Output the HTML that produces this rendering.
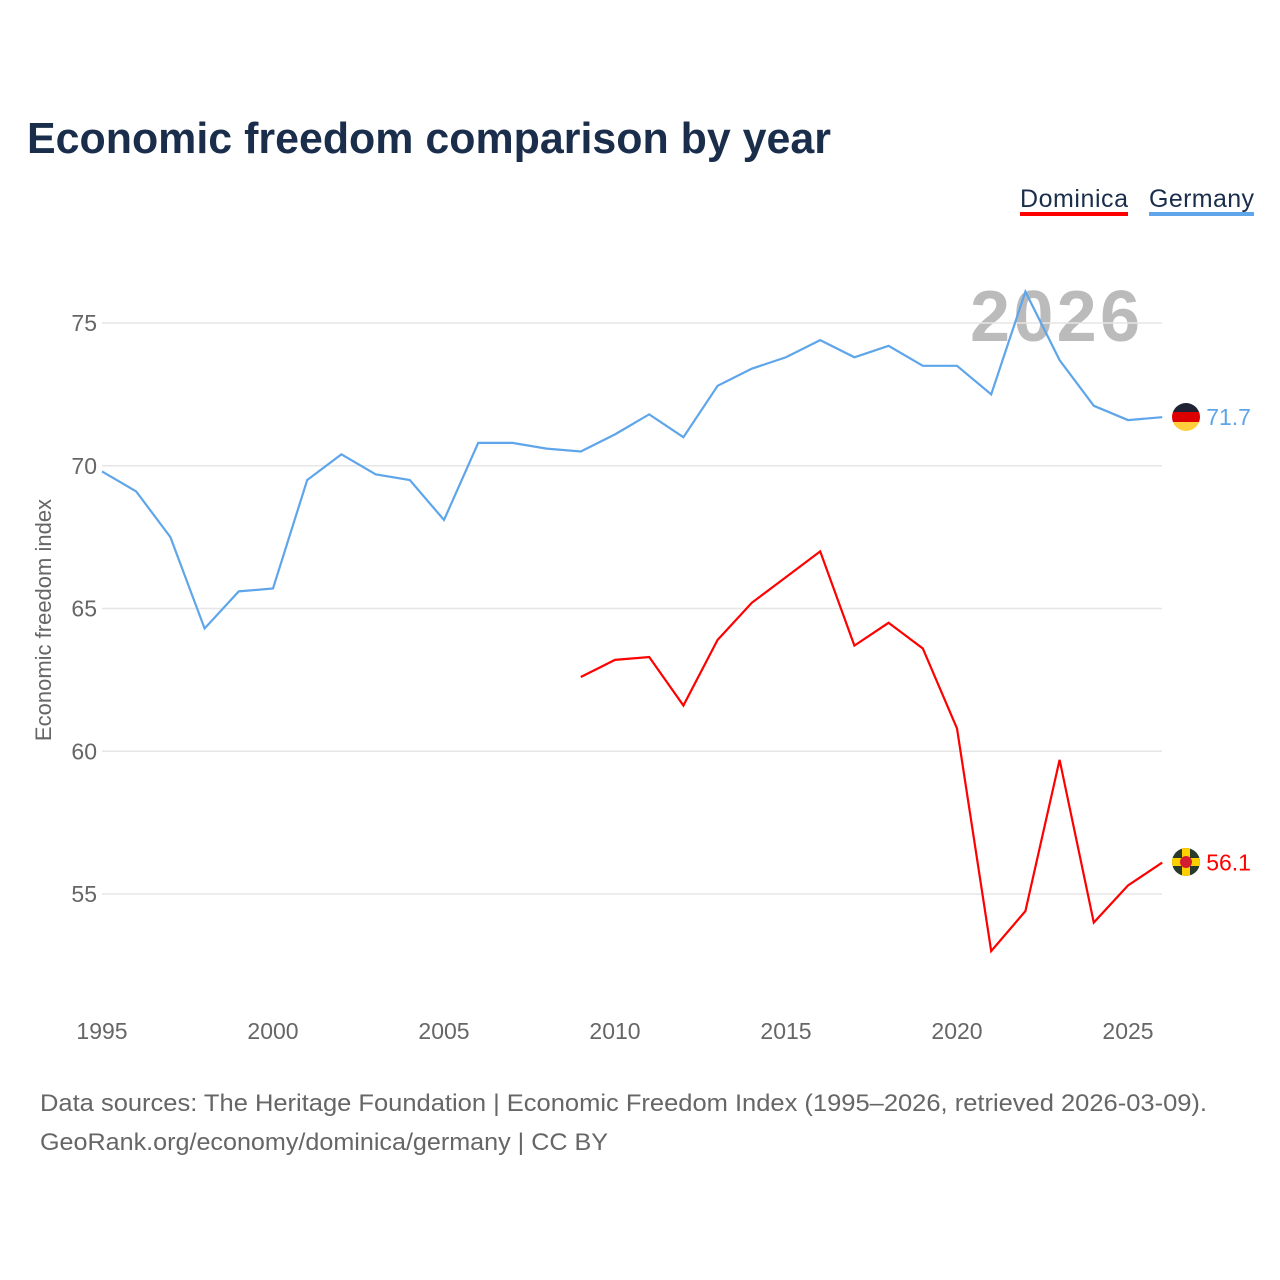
<!DOCTYPE html>
<html><head><meta charset="utf-8"><style>
body{margin:0;background:#fff;font-family:"Liberation Sans",sans-serif;}
svg{display:block}
</style></head><body>
<svg id="chart" width="1280" height="1280">
<rect width="1280" height="1280" fill="#fff"/>
<text x="27" y="153" font-size="44" font-weight="bold" fill="#1a2e4c" textLength="804" lengthAdjust="spacingAndGlyphs">Economic freedom comparison by year</text>
<g>
<text x="1020" y="207" font-size="25" fill="#1a2e4c" textLength="108">Dominica</text>
<rect x="1020" y="212" width="108" height="4" fill="#ff0000"/>
<text x="1149" y="207" font-size="25" fill="#1a2e4c" textLength="105">Germany</text>
<rect x="1149" y="212" width="105" height="4" fill="#5ea5ea"/>
</g>
<text x="1140" y="341" font-size="72" font-weight="bold" fill="#bbbbbb" text-anchor="end" textLength="170">2026</text>
<g id="grid"></g><g id="yticks"></g><g id="xticks"></g><g id="lines"></g>
<defs>
<clipPath id="cg"><circle cx="1186" cy="417" r="14"/></clipPath>
<clipPath id="cd"><circle cx="1186" cy="862" r="14"/></clipPath>
</defs>
<g clip-path="url(#cg)">
<rect x="1170" y="402" width="32" height="10" fill="#1f2233"/>
<rect x="1170" y="412" width="32" height="10" fill="#dd0000"/>
<rect x="1170" y="422" width="32" height="10" fill="#ffce3a"/>
</g>
<g clip-path="url(#cd)">
<rect x="1170" y="846" width="32" height="32" fill="#2a3a2a"/>
<rect x="1170" y="858" width="32" height="8" fill="#ffd000"/>
<rect x="1182" y="846" width="8" height="32" fill="#ffd000"/>
<circle cx="1186" cy="862" r="6" fill="#d41c30"/>
</g>
<text transform="translate(51,620) rotate(-90)" font-size="22" fill="#666" text-anchor="middle">Economic freedom index</text>
<text x="40" y="1111" font-size="24" fill="#666" textLength="1167" lengthAdjust="spacingAndGlyphs">Data sources: The Heritage Foundation | Economic Freedom Index (1995–2026, retrieved 2026-03-09).</text>
<text x="40" y="1150" font-size="24" fill="#666" textLength="568" lengthAdjust="spacingAndGlyphs">GeoRank.org/economy/dominica/germany | CC BY</text>
</svg>
<script>
const germanyYears=[1995,1996,1997,1998,1999,2000,2001,2002,2003,2004,2005,2006,2007,2008,2009,2010,2011,2012,2013,2014,2015,2016,2017,2018,2019,2020,2021,2022,2023,2024,2025,2026];
const germanyValues=[69.8,69.1,67.5,64.3,65.6,65.7,69.5,70.4,69.7,69.5,68.1,70.8,70.8,70.6,70.5,71.1,71.8,71.0,72.8,73.4,73.8,74.4,73.8,74.2,73.5,73.5,72.5,76.1,73.7,72.1,71.6,71.7];
const dominicaYears=[2009,2010,2011,2012,2013,2014,2015,2016,2017,2018,2019,2020,2021,2022,2023,2024,2025,2026];
const dominicaValues=[62.6,63.2,63.3,61.6,63.9,65.2,66.1,67.0,63.7,64.5,63.6,60.8,53.0,54.4,59.7,54.0,55.3,56.1];
const yTicks=[55,60,65,70,75];
const xTicks=[1995,2000,2005,2010,2015,2020,2025];
const NS="http://www.w3.org/2000/svg";
const xS=y=>102+(y-1995)*34.2;
const yS=v=>894-(v-55)*28.55;
function mk(t,a,p){const e=document.createElementNS(NS,t);for(const k in a)e.setAttribute(k,a[k]);p.appendChild(e);return e;}
const grid=document.getElementById('grid'),yt=document.getElementById('yticks'),xt=document.getElementById('xticks'),ln=document.getElementById('lines');
yTicks.forEach(v=>{
 const l=mk('line',{x1:102,x2:1162,y1:yS(v),y2:yS(v),stroke:'#e6e6e6','stroke-width':1.5},grid);
 
 
 const t=mk('text',{x:97,y:yS(v)+8,'font-size':23,fill:'#666','text-anchor':'end'},yt);
 t.textContent=v;
 
 
});
xTicks.forEach(y=>{
 const t=mk('text',{x:xS(y),y:1039,'font-size':23,fill:'#666','text-anchor':'middle'},xt);
 t.textContent=y;
 
 
});
function series(ys,vs,col,name){
 const p=mk('polyline',{points:ys.map((y,i)=>xS(y)+','+yS(vs[i])).join(' '),fill:'none',stroke:col,'stroke-width':2.2},ln);
 
 
 const last=vs[vs.length-1],lx=xS(ys[ys.length-1]);
 const t=mk('text',{x:lx+44,y:yS(last)+8,'font-size':23,fill:col},ln);
 t.textContent=last.toFixed(1);
 
 
}
series(germanyYears,germanyValues,'#5ea5ea','germany');
series(dominicaYears,dominicaValues,'#ff0000','dominica');
</script>
</body></html>
